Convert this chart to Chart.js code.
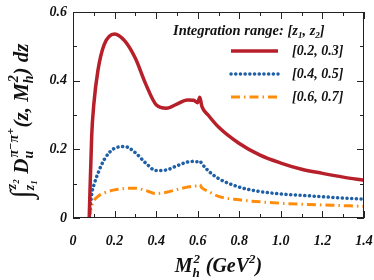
<!DOCTYPE html>
<html>
<head>
<meta charset="utf-8">
<script src="https://cdn.jsdelivr.net/npm/chart.js@4.4.0/dist/chart.umd.min.js"></script>
<style>
  html, body { margin: 0; padding: 0; background: #fff; }
  #wrap { width: 374px; height: 280px; }
</style>
</head>
<body>
<div id="wrap"><canvas id="c"></canvas></div>
<script>
// M_h^2 values (GeV^2), shared by all three curves
const massSq = [0.078, 0.09, 0.1, 0.12, 0.15, 0.2, 0.25, 0.3, 0.35, 0.4, 0.45, 0.5, 0.55, 0.58, 0.6, 0.61, 0.62, 0.65, 0.7, 0.8, 0.9, 1.0, 1.1, 1.2, 1.3, 1.4];
const range23 = [0, 0.24, 0.33, 0.43, 0.505, 0.536, 0.515, 0.465, 0.39, 0.33, 0.32, 0.332, 0.344, 0.343, 0.336, 0.352, 0.325, 0.3, 0.265, 0.217, 0.183, 0.16, 0.142, 0.13, 0.119, 0.11];
const range45 = [0, 0.07, 0.095, 0.13, 0.17, 0.203, 0.208, 0.19, 0.16, 0.138, 0.14, 0.152, 0.163, 0.165, 0.164, 0.166, 0.158, 0.138, 0.115, 0.09, 0.077, 0.07, 0.066, 0.062, 0.058, 0.055];
const range67 = [0, 0.035, 0.05, 0.063, 0.073, 0.082, 0.086, 0.087, 0.08, 0.071, 0.075, 0.083, 0.09, 0.093, 0.094, 0.097, 0.088, 0.078, 0.063, 0.053, 0.047, 0.043, 0.04, 0.038, 0.036, 0.034];
const legendLabels = ['[0.2, 0.3]', '[0.4, 0.5]', '[0.6, 0.7]'];
const xTicks = [0, 0.2, 0.4, 0.6, 0.8, 1.0, 1.2, 1.4];
const xTickLabels = ['0', '0.2', '0.4', '0.6', '0.8', '1.0', '1.2', '1.4'];
const yTicks = [0, 0.2, 0.4, 0.6];
const yTickLabels = ['0', '0.2', '0.4', '0.6'];

const RED = '#b7202a', BLUE = '#1f5fa6', ORANGE = '#ff8c0a';
const styles = [
  { color: RED, width: 3.5, dash: [], cap: 'butt' },
  { color: BLUE, width: 3.5, dash: [0.1, 4.6], cap: 'round' },
  { color: ORANGE, width: 3, dash: [9, 4, 1.5, 4], cap: 'butt' }
];
const SERIF = '"Liberation Serif", "DejaVu Serif", serif';

function setFont(ctx, size, italic) {
  ctx.font = (italic === false ? '' : 'italic ') + 'bold ' + size + 'px ' + SERIF;
}
// parts: {t, s, dy, it} plain piece, or {sup, sub, s, up, down} stacked scripts
function runWidth(ctx, parts) {
  let w = 0;
  parts.forEach(p => {
    if (p.sup !== undefined) {
      setFont(ctx, p.s);
      w += Math.max(ctx.measureText(p.sup).width, ctx.measureText(p.sub).width) + 1;
    } else {
      setFont(ctx, p.s, p.it);
      w += ctx.measureText(p.t).width;
    }
  });
  return w;
}
function drawRun(ctx, x, y, parts) {
  parts.forEach(p => {
    if (p.sup !== undefined) {
      setFont(ctx, p.s);
      ctx.fillText(p.sup, x + 1, y - p.up);
      ctx.fillText(p.sub, x, y + p.down);
      x += Math.max(ctx.measureText(p.sup).width, ctx.measureText(p.sub).width) + 1;
    } else {
      setFont(ctx, p.s, p.it);
      ctx.fillText(p.t, x, y + (p.dy || 0));
      x += ctx.measureText(p.t).width;
    }
  });
}

const decor = {
  id: 'decor',
  afterDraw(chart) {
    const ctx = chart.ctx, a = chart.chartArea;
    const xs = chart.scales.x, ys = chart.scales.y;
    ctx.save();
    ctx.strokeStyle = '#222';
    ctx.lineWidth = 1;
    ctx.strokeRect(a.left + 0.5, a.top + 0.5, a.right - a.left - 1, a.bottom - a.top - 1);
    // inward ticks on all four sides
    ctx.beginPath();
    for (let i = 0; i <= 14; i++) {
      const px = Math.round(xs.getPixelForValue(i / 10)) + 0.5;
      const len = i % 2 === 0 ? 7 : 4;
      ctx.moveTo(px, a.bottom); ctx.lineTo(px, a.bottom - len);
      ctx.moveTo(px, a.top); ctx.lineTo(px, a.top + len);
    }
    for (let i = 0; i <= 6; i++) {
      const py = Math.round(ys.getPixelForValue(i / 10)) + 0.5;
      const len = i % 2 === 0 ? 7 : 4;
      ctx.moveTo(a.left, py); ctx.lineTo(a.left + len, py);
      ctx.moveTo(a.right, py); ctx.lineTo(a.right - len, py);
    }
    ctx.stroke();

    // tick labels
    ctx.fillStyle = '#111';
    setFont(ctx, 14);
    ctx.textAlign = 'center'; ctx.textBaseline = 'top';
    xTicks.forEach((v, i) => ctx.fillText(xTickLabels[i], xs.getPixelForValue(v), 234));
    ctx.textAlign = 'right'; ctx.textBaseline = 'middle';
    yTicks.forEach((v, i) => ctx.fillText(yTickLabels[i], a.left - 6, ys.getPixelForValue(v)));

    // x title: M_h^2 (GeV^2)
    ctx.textAlign = 'left'; ctx.textBaseline = 'alphabetic';
    const xt = [{ t: 'M', s: 20 }, { sup: '2', sub: 'h', s: 13, up: 9, down: 5 }, { t: ' (GeV', s: 20 }, { t: '2', s: 13, dy: -9 }, { t: ')', s: 20 }];
    const xw = runWidth(ctx, xt);
    drawRun(ctx, (a.left + a.right) / 2 - xw / 2, 272, xt);

    // y title, rotated
    ctx.save();
    ctx.translate(28, 121);
    ctx.rotate(-Math.PI / 2);
    const yt = [
      { t: '\u222B', s: 30, dy: 3, it: false },
      { sup: 'z\u2082', sub: 'z\u2081', s: 14, up: 12, down: 6 },
      { t: ' D', s: 21 },
      { sup: '\u03C0\u207B\u03C0\u207A', sub: 'u', s: 14, up: 10, down: 5 },
      { t: '(z, M', s: 21 },
      { sup: '2', sub: 'h', s: 14, up: 10, down: 5 },
      { t: ') dz', s: 21 }
    ];
    const yw = runWidth(ctx, yt);
    drawRun(ctx, -yw / 2, 0, yt);
    ctx.restore();

    // legend
    const lt = [{ t: 'Integration range: [z', s: 14.5 }, { t: '1', s: 9, dy: 3 }, { t: ', z', s: 14.5 }, { t: '2', s: 9, dy: 3 }, { t: ']', s: 14.5 }];
    drawRun(ctx, 173, 35, lt);
    styles.forEach((s, i) => {
      const ly = 51 + i * 23;
      ctx.beginPath();
      ctx.strokeStyle = s.color; ctx.lineWidth = s.width;
      ctx.lineCap = s.cap; ctx.setLineDash(s.dash);
      ctx.moveTo(231, ly); ctx.lineTo(278, ly);
      ctx.stroke();
      ctx.setLineDash([]);
      ctx.fillStyle = '#111';
      setFont(ctx, 14);
      ctx.textBaseline = 'middle';
      ctx.fillText(legendLabels[i], 292, ly);
    });
    ctx.restore();
  }
};

new Chart(document.getElementById('c'), {
  type: 'line',
  data: {
    datasets: [range23, range45, range67].map((ys, i) => ({
      label: legendLabels[i],
      data: pts(ys),
      borderColor: styles[i].color,
      borderWidth: styles[i].width,
      borderDash: styles[i].dash,
      borderCapStyle: styles[i].cap,
      pointRadius: 0,
      fill: false,
      cubicInterpolationMode: 'monotone'
    }))
  },
  options: {
    responsive: true,
    maintainAspectRatio: false,
    animation: false,
    layout: { padding: { left: 65, right: 10, top: 12, bottom: 54 } },
    plugins: { legend: { display: false }, tooltip: { enabled: false } },
    scales: {
      x: { type: 'linear', min: 0, max: 1.4, ticks: { display: false }, grid: { display: false }, border: { display: false } },
      y: { min: 0, max: 0.6, ticks: { display: false }, grid: { display: false }, border: { display: false } }
    }
  },
  plugins: [decor]
});

function pts(ys) { return massSq.map((x, i) => ({ x: x, y: ys[i] })); }
</script>
</body>
</html>
